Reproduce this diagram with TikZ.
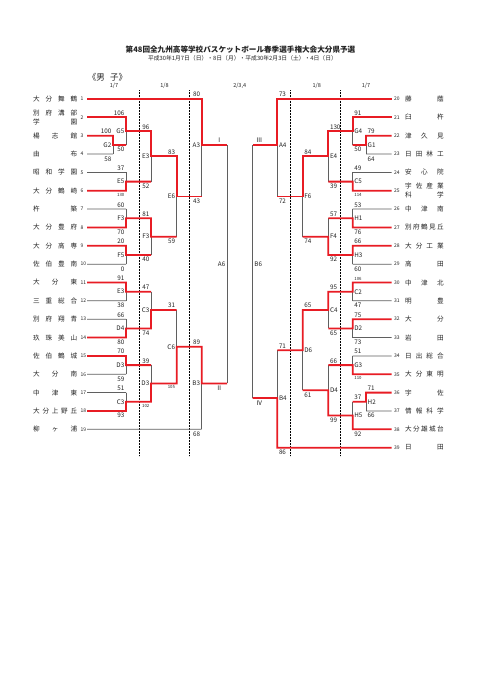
\documentclass[tikz,border=0pt]{standalone}
\usepackage{fontspec}
\setmainfont{Noto Sans CJK JP}
\definecolor{wred}{RGB}{232,28,36}
\definecolor{lgray}{RGB}{95,95,95}
\definecolor{txt}{RGB}{35,35,35}
\newcommand\dist[2]{\makebox[#1][s]{#2}}
\newcommand\ssz{\fontsize{4.3}{4.3}\selectfont}
\newcommand\mt[5]{\coordinate (#1-t) at (#2,#3); \coordinate (#1-b) at (#2,#4); \coordinate (#1) at (#2,#5);}
\newcommand\LM[4]{\node[sc,LL] (#1-lab) at (#1) {#2};\node[sc,LA] (#1-sa) at (#1-t) {#3};\node[sc,LB] (#1-sb) at (#1-b) {#4};}
\newcommand\RM[4]{\node[sc,RL] (#1-lab) at (#1) {#2};\node[sc,RA] (#1-sa) at (#1-t) {#3};\node[sc,RB] (#1-sb) at (#1-b) {#4};}
\begin{document}
\begin{tikzpicture}[x=1pt,y=-1pt,
  win/.style={draw=wred,line width=1.8pt,line join=miter},
  lose/.style={draw=lgray,line width=0.75pt},
  dots/.style={draw=black,line width=0.45pt,dash pattern=on 0.45pt off 1.05pt},
  sc/.style={font=\fontsize{6.3}{6.3}\selectfont,inner sep=0pt,text=txt},
  hd/.style={font=\fontsize{5.5}{5.5}\selectfont,inner sep=0pt,text=txt},
  LA/.style={anchor=south east,xshift=-1.5pt,yshift=1.8pt},
  LB/.style={anchor=north east,xshift=-1.5pt,yshift=-2.2pt},
  RA/.style={anchor=south west,xshift=1.5pt,yshift=1.8pt},
  RB/.style={anchor=north west,xshift=1.5pt,yshift=-2.2pt},
  LL/.style={anchor=east,xshift=-1.5pt},
  RL/.style={anchor=west,xshift=1.5pt},
  nm/.style={anchor=west,inner sep=0pt,text=txt,font=\fontsize{6.6}{9}\selectfont},
  num/.style={anchor=west,inner sep=0pt,text=txt,font=\fontsize{5}{5}\selectfont}]
\fill[white] (0,0) rectangle (481,680);
\useasboundingbox (0,0) rectangle (481,680);

% titles
\node[text=txt,font=\bfseries\fontsize{7.6}{8}\selectfont] (title) at (240.5,50) {第48回全九州高等学校バスケットボール春季選手権大会大分県予選};
\node[text=txt,font=\fontsize{5.8}{6}\selectfont] (sub) at (242.5,58.3) {平成30年1月7日（日）・8日（月）・平成30年2月3日（土）・4日（日）};
\node[text=txt,font=\fontsize{8.5}{9}\selectfont] (sex) at (107.5,77.3) {《男\hspace{0.6em}子》};
\node[hd] (h1) at (114,86) {1/7};
\node[hd] (h2) at (164.5,86) {1/8};
\node[hd] (h3) at (239.7,86) {2/3,4};
\node[hd] (h4) at (316.7,86) {1/8};
\node[hd] (h5) at (366,86) {1/7};

% dotted round separators
\foreach \x/\n in {139.3/1,189.3/2,290/3,340.7/4}{
  \coordinate (d\n t) at (\x,90); \coordinate (d\n b) at (\x,456);
  \draw[dots] (d\n t) -- (d\n b);}

% left teams
\foreach \i/\nmx in {1/{大\hfill 分\hfill 舞\hfill 鶴},3/{楊\hfill 志\hfill 館},4/{由\hfill 布},5/{昭\hfill 和\hfill 学\hfill 園},6/{大\hfill 分\hfill 鶴\hfill 崎},7/{杵\hfill 築},8/{大\hfill 分\hfill 豊\hfill 府},9/{大\hfill 分\hfill 高\hfill 専},10/{佐\hfill 伯\hfill 豊\hfill 南},11/{大\hfill 分\hfill 東},12/{三\hfill 重\hfill 総\hfill 合},13/{別\hfill 府\hfill 翔\hfill 青},14/{玖\hfill 珠\hfill 美\hfill 山},15/{佐\hfill 伯\hfill 鶴\hfill 城},16/{大\hfill 分\hfill 南},17/{中\hfill 津\hfill 東},18/{大\hfill 分\hfill 上\hfill 野\hfill 丘},19/{柳\hfill ヶ\hfill 浦}}{
  \pgfmathsetmacro\yy{99+(\i-1)*18.35}
  \node[nm] (n\i) at (33,\yy) {\dist{44pt}{\nmx}};
}
\node[nm,align=left] (n2) at (33,117.35) {\dist{44pt}{別\hfill 府\hfill 溝\hfill 部}\\\dist{44pt}{学\hfill 園}};
\foreach \i in {1,...,19}{
  \pgfmathsetmacro\yy{99+(\i-1)*18.35}
  \node[num] (k\i) at (80.5,\yy) {\i};
  \coordinate (s\i) at (87,\yy);
}
% right teams
\foreach \i/\nmx in {20/{藤\hfill 蔭},21/{臼\hfill 杵},22/{津\hfill 久\hfill 見},23/{日\hfill 田\hfill 林\hfill 工},24/{安\hfill 心\hfill 院},26/{中\hfill 津\hfill 南},27/{別\hfill 府\hfill 鶴\hfill 見\hfill 丘},28/{大\hfill 分\hfill 工\hfill 業},29/{高\hfill 田},30/{中\hfill 津\hfill 北},31/{明\hfill 豊},32/{大\hfill 分},33/{岩\hfill 田},34/{日\hfill 出\hfill 総\hfill 合},35/{大\hfill 分\hfill 東\hfill 明},36/{宇\hfill 佐},37/{情\hfill 報\hfill 科\hfill 学},38/{大\hfill 分\hfill 雄\hfill 城\hfill 台},39/{日\hfill 田}}{
  \pgfmathsetmacro\yy{99+(\i-20)*18.35}
  \node[nm] (n\i) at (405,\yy) {\dist{38.5pt}{\nmx}};
}
\node[nm,align=left] (n25) at (405,190.75) {\dist{38.5pt}{宇\hfill 佐\hfill 産\hfill 業}\\\dist{38.5pt}{科\hfill 学}};
\foreach \i in {20,...,39}{
  \pgfmathsetmacro\yy{99+(\i-20)*18.35}
  \node[num] (k\i) at (394,\yy) {\i};
  \coordinate (s\i) at (391.7,\yy);
}

% match coordinates: name, x, top, bottom, output
\mt{G2}{113}{135.7}{154.05}{144.9}
\mt{G5}{126}{117.35}{144.9}{131.1}
\mt{E5}{126}{172.4}{190.75}{181.6}
\mt{E3b}{151}{131.1}{181.6}{156.35}
\mt{F3a}{126}{209.1}{227.45}{218.3}
\mt{F5}{126}{245.8}{264.15}{255}
\mt{F3b}{151}{218.3}{255}{236.65}
\mt{E6}{176.7}{156.35}{236.65}{196.5}
\mt{A3}{201.7}{99}{196.5}{144.9}
\mt{E3a}{126}{282.5}{300.85}{291.7}
\mt{D4a}{126}{319.2}{337.55}{328.4}
\mt{C3b}{151}{291.7}{328.4}{310.05}
\mt{D3a}{126}{355.9}{374.25}{365.1}
\mt{C3a}{126}{392.6}{410.95}{401.8}
\mt{D3b}{151}{365.1}{401.8}{383.45}
\mt{C6}{176.7}{310.05}{383.45}{346.75}
\mt{B3}{201.7}{346.75}{429.3}{383.45}
\mt{A6}{227}{144.9}{383.45}{264.2}
\mt{G1}{366}{135.7}{154.05}{144.9}
\mt{G4}{352.7}{117.35}{144.9}{131.1}
\mt{C5}{352.7}{172.4}{190.75}{181.6}
\mt{E4}{328.3}{131.1}{181.6}{156.35}
\mt{H1}{352.7}{209.1}{227.45}{218.3}
\mt{H3}{352.7}{245.8}{264.15}{255}
\mt{F4}{328.3}{218.3}{255}{236.65}
\mt{F6}{302.7}{156.35}{236.65}{196.5}
\mt{A4}{277.3}{99}{196.5}{144.9}
\mt{C2}{352.7}{282.5}{300.85}{291.7}
\mt{D2}{352.7}{319.2}{337.55}{328.4}
\mt{C4}{328.3}{291.7}{328.4}{310.05}
\mt{G3}{352.7}{355.9}{374.25}{365.1}
\mt{H2}{366}{392.6}{410.95}{401.8}
\mt{H5}{352.7}{401.8}{429.3}{415.55}
\mt{D4r}{328.3}{365.1}{415.55}{390.3}
\mt{D6}{302.7}{310.05}{390.3}{350.2}
\mt{B4}{277.3}{350.2}{447.65}{398}
\mt{B6}{252.7}{144.9}{398}{264.2}

% gray match verticals
\foreach \m in {G2,G5,E5,E3b,F3a,F5,F3b,E6,A3,E3a,D4a,C3b,D3a,C3a,D3b,C6,B3,A6,G1,G4,C5,E4,H1,H3,F4,F6,A4,C2,D2,C4,G3,H2,H5,D4r,D6,B4,B6}
  \draw[lose] (\m-t) -- (\m-b);
% gray lines of losing teams
\draw[lose] (s4) -- (G2-b);
\draw[lose] (s5) -- (E5-t);
\draw[lose] (s7) -- (F3a-t);
\draw[lose] (s10) -- (F5-b);
\draw[lose] (s12) -- (E3a-b);
\draw[lose] (s13) -- (D4a-t);
\draw[lose] (s16) -- (D3a-b);
\draw[lose] (s17) -- (C3a-t);
\draw[lose] (s19) -- (B3-b);
\draw[lose] (s23) -- (G1-b);
\draw[lose] (s24) -- (C5-t);
\draw[lose] (s26) -- (H1-t);
\draw[lose] (s29) -- (H3-b);
\draw[lose] (s31) -- (C2-b);
\draw[lose] (s33) -- (D2-b);
\draw[lose] (s34) -- (G3-t);
\draw[lose] (s37) -- (H2-b);

% red paths of winners
\draw[win] (s1) -- (A3-t) -- (A3) -- (A6-t);
\draw[win] (s2) -- (G5-t) -- (G5) -- (E3b-t) -- (E3b) -- (E6-t) -- (E6) -- (A3-b);
\draw[win] (s3) -- (G2-t) -- (G2) -- (G5-b);
\draw[win] (s6) -- (E5-b) -- (E5) -- (E3b-b);
\draw[win] (s8) -- (F3a-b) -- (F3a) -- (F3b-t) -- (F3b) -- (E6-b);
\draw[win] (s9) -- (F5-t) -- (F5) -- (F3b-b);
\draw[win] (s11) -- (E3a-t) -- (E3a) -- (C3b-t);
\draw[win] (s14) -- (D4a-b) -- (D4a) -- (C3b-b) -- (C3b) -- (C6-t);
\draw[win] (s15) -- (D3a-t) -- (D3a) -- (D3b-t);
\draw[win] (s18) -- (C3a-b) -- (C3a) -- (D3b-b) -- (D3b) -- (C6-b) -- (C6) -- (B3-t) -- (B3) -- (A6-b);
\draw[win] (s20) -- (A4-t) -- (A4) -- (B6-t);
\draw[win] (s21) -- (G4-t) -- (G4) -- (E4-t) -- (E4) -- (F6-t) -- (F6) -- (A4-b);
\draw[win] (s22) -- (G1-t) -- (G1) -- (G4-b);
\draw[win] (s25) -- (C5-b) -- (C5) -- (E4-b);
\draw[win] (s27) -- (H1-b) -- (H1) -- (F4-t);
\draw[win] (s28) -- (H3-t) -- (H3) -- (F4-b) -- (F4) -- (F6-b);
\draw[win] (s30) -- (C2-t) -- (C2) -- (C4-t) -- (C4) -- (D6-t) -- (D6) -- (B4-t);
\draw[win] (s32) -- (D2-t) -- (D2) -- (C4-b);
\draw[win] (s35) -- (G3-b) -- (G3) -- (D4r-t);
\draw[win] (s36) -- (H2-t) -- (H2) -- (H5-t);
\draw[win] (s38) -- (H5-b) -- (H5) -- (D4r-b) -- (D4r) -- (D6-b);
\draw[win] (s39) -- (B4-b) -- (B4) -- (B6-b);

% labels and scores, left
\LM{G2}{G2}{100}{58}
\LM{G5}{G5}{106}{50}
\LM{E5}{E5}{37}{\ssz 130}
\LM{E3b}{E3}{96}{52}
\LM{F3a}{F3}{60}{70}
\LM{F5}{F5}{20}{0}
\LM{F3b}{F3}{81}{40}
\LM{E6}{E6}{83}{59}
\LM{A3}{A3}{80}{43}
\LM{E3a}{E3}{91}{38}
\LM{D4a}{D4}{66}{80}
\LM{C3b}{C3}{47}{74}
\LM{D3a}{D3}{70}{59}
\LM{C3a}{C3}{51}{93}
\LM{D3b}{D3}{39}{\ssz 102}
\LM{C6}{C6}{31}{\ssz 105}
\LM{B3}{B3}{89}{68}
\node[sc,LL] (A6-lab) at (A6) {A6};
% right
\RM{G1}{G1}{79}{64}
\RM{G4}{G4}{91}{50}
\RM{C5}{C5}{49}{\ssz 114}
\RM{E4}{E4}{130}{39}
\RM{H1}{H1}{53}{76}
\RM{H3}{H3}{66}{60}
\RM{F4}{F4}{57}{92}
\RM{F6}{F6}{84}{74}
\RM{A4}{A4}{73}{72}
\RM{C2}{C2}{\ssz 106}{47}
\RM{D2}{D2}{75}{73}
\RM{C4}{C4}{95}{65}
\RM{G3}{G3}{51}{\ssz 110}
\RM{H2}{H2}{71}{66}
\RM{H5}{H5}{37}{92}
\RM{D4r}{D4}{66}{99}
\RM{D6}{D6}{65}{61}
\RM{B4}{B4}{71}{86}
\node[sc,RL] (B6-lab) at (B6) {B6};
% roman numerals
\node[sc,anchor=south east,xshift=-4.3pt,yshift=1.8pt] (r1) at (A6-t) {Ⅰ};
\node[sc,anchor=north east,xshift=-4.3pt,yshift=-2.2pt] (r2) at (A6-b) {Ⅱ};
\node[sc,anchor=south west,xshift=3.3pt,yshift=1.8pt] (r3) at (B6-t) {Ⅲ};
\node[sc,anchor=north west,xshift=3.3pt,yshift=-2.2pt] (r4) at (B6-b) {Ⅳ};
\end{tikzpicture}
\end{document}
